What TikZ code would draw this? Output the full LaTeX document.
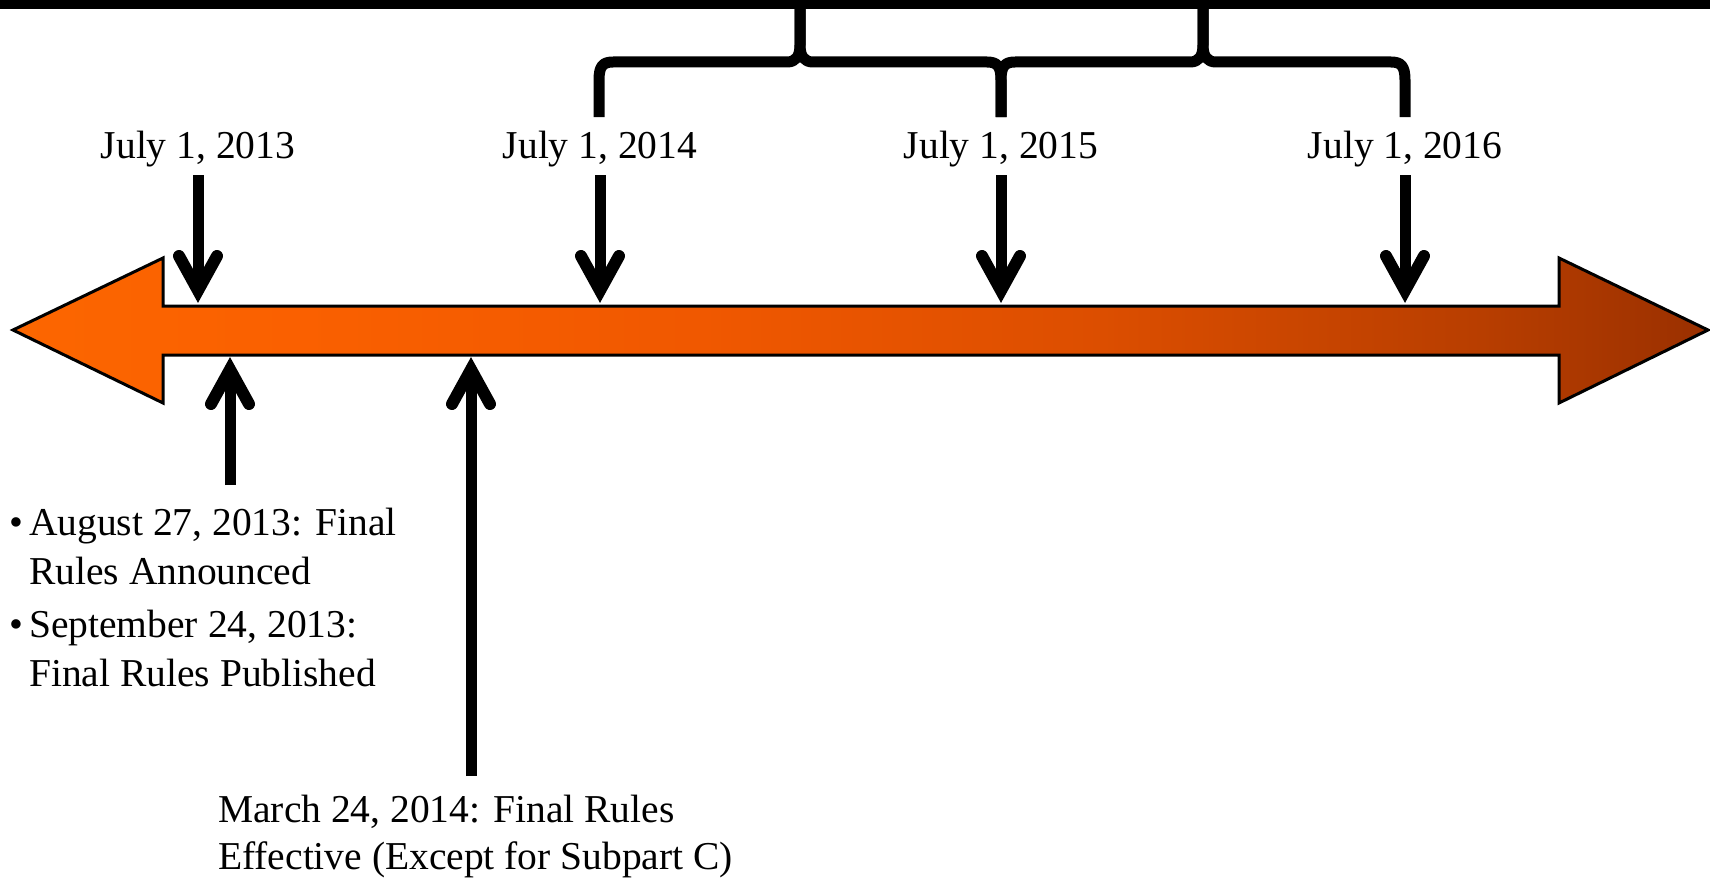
\documentclass[tikz,border=0pt]{standalone}
\usepackage{fontspec}
\setmainfont{Liberation Serif}
\usetikzlibrary{calc}
\pgfdeclarehorizontalshading{tlshade}{100bp}{rgb(0bp)=(0.988,0.4,0); rgb(25bp)=(0.988,0.4,0); rgb(33.5bp)=(0.98,0.376,0); rgb(45.3bp)=(0.941,0.345,0); rgb(57.1bp)=(0.863,0.306,0); rgb(68.3bp)=(0.722,0.243,0); rgb(75bp)=(0.604,0.188,0); rgb(100bp)=(0.604,0.188,0)}
\tikzset{
  lbl/.style={font=\fontsize{39.5}{49.5}\selectfont, inner sep=0pt},
  shaft/.style={line width=11pt},
  vtip/.style={line width=12pt, line cap=round, line join=miter},
  bracestroke/.style={line width=11pt, line join=round},
  bigarrow/.style={shading=tlshade, draw=black, line width=3pt, line join=miter},
}
\begin{document}
\begin{tikzpicture}[x=1pt,y=-1pt]
\useasboundingbox (0,0) rectangle (1710,883);
% top bar
\fill[black] (0,0) rectangle (1710,9);
% braces
\draw[bracestroke] (599,117) -- (599,80) .. controls (599,66) and (603,62) .. (613,62) -- (787,62) .. controls (796,62) and (800,56) .. (800,45) -- (800,4);
\draw[bracestroke] (1001,117) -- (1001,80) .. controls (1001,66) and (997,62) .. (987,62) -- (813,62) .. controls (804,62) and (800,56) .. (800,45) -- (800,4);
\draw[bracestroke] (1001,117) -- (1001,80) .. controls (1001,66) and (1005,62) .. (1015,62) -- (1190,62) .. controls (1199,62) and (1203,56) .. (1203,45) -- (1203,4);
\draw[bracestroke] (1405,117) -- (1405,80) .. controls (1405,66) and (1401,62) .. (1391,62) -- (1216,62) .. controls (1207,62) and (1203,56) .. (1203,45) -- (1203,4);
% big double arrow
\shadedraw[bigarrow] (13,330) -- (163,258) -- (163,306) -- (1559,306) -- (1559,258) -- (1708,330) -- (1559,403) -- (1559,355) -- (163,355) -- (163,403) -- cycle;
% top labels
\node[lbl, anchor=base] (l13) at (198,158) {July 1, 2013};
\node[lbl, anchor=base] (l14) at (600,158) {July 1, 2014};
\node[lbl, anchor=base] (l15) at (1001,158) {July 1, 2015};
\node[lbl, anchor=base] (l16) at (1405,158) {July 1, 2016};
% tip coordinates (down)
\coordinate (t13) at (198,290.5);
\coordinate (t14) at (600,290.5);
\coordinate (t15) at (1001,290.5);
\coordinate (t16) at (1405,290.5);
\foreach \n in {13,14,15,16}{
  \draw[shaft, shorten <=8.5pt] (l\n.south) -- (t\n);
  \draw[vtip] ($(t\n)+(-19,-34.5)$) -- (t\n) -- ($(t\n)+(19,-34.5)$);
}
% up arrows
\coordinate (b1) at (230,485);
\coordinate (u1) at (230,369.5);
\coordinate (b2) at (471,776);
\coordinate (u2) at (471,369.5);
\draw[shaft] (b1) -- (u1);
\draw[vtip] ($(u1)+(-19,34.5)$) -- (u1) -- ($(u1)+(19,34.5)$);
\draw[shaft] (b2) -- (u2);
\draw[vtip] ($(u2)+(-19,34.5)$) -- (u2) -- ($(u2)+(19,34.5)$);
% bottom texts
\node[lbl, anchor=base west] (pub) at (9,535) {\begin{tabular}[t]{@{}p{20pt}@{}l@{}}\textbullet & August 27, 2013: Final\\ & Rules Announced\\[3pt] \textbullet & September 24, 2013:\\ & Final Rules Published\end{tabular}};
\node[lbl, anchor=base west] (eff) at (218,822) {\begin{tabular}[t]{@{}l@{}}March 24, 2014: Final Rules\\[-2pt] Effective (Except for Subpart C)\end{tabular}};
\end{tikzpicture}
\end{document}
